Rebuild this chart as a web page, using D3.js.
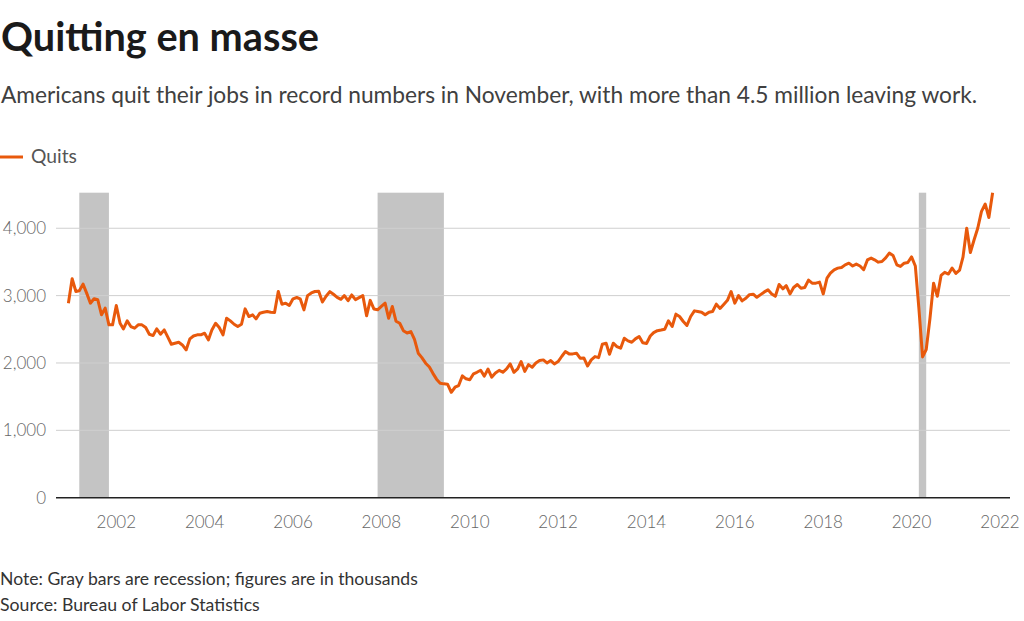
<!DOCTYPE html>
<html>
<head>
<meta charset="utf-8">
<script src="https://cdn.jsdelivr.net/npm/d3@7"></script>
<style>
  body { margin: 0; background: #fff; }
  svg { display: block; font-family: "Lato", "Open Sans", sans-serif; }
</style>
</head>
<body>
<svg id="chart" width="1024" height="621"></svg>
<script>
// monthly quits, thousands, Dec 2000 .. Nov 2021
const startMonth = "2000-12";
const quits = [
  2888,
  3250, 3061, 3071, 3171, 3037, 2888, 2953, 2938, 2715, 2814, 2566, 2566,
  2853, 2590, 2506, 2625, 2541, 2516, 2566, 2566, 2526, 2427, 2407, 2506,
  2427, 2491, 2392, 2278, 2293, 2308, 2268, 2194, 2358, 2400, 2418, 2418,
  2442, 2343, 2491, 2590, 2526, 2418, 2665, 2625, 2575, 2541, 2575, 2803,
  2690, 2714, 2655, 2739, 2754, 2764, 2754, 2749, 3061, 2873, 2888, 2853,
  2952, 2972, 2952, 2789, 3000, 3040, 3061, 3065, 2905, 2990, 3060, 3020,
  2975, 2945, 3000, 2925, 3010, 2940, 2970, 3000, 2700, 2930, 2800, 2790,
  2840, 2888, 2665, 2838, 2620, 2590, 2480, 2445, 2467, 2350, 2145, 2080,
  1997, 1940, 1850, 1760, 1700, 1690, 1685, 1565, 1640, 1665, 1810, 1765,
  1750, 1840, 1862, 1892, 1805, 1910, 1790, 1850, 1890, 1862, 1912, 1986,
  1862, 1912, 2020, 1875, 1976, 1936, 2000, 2036, 2046, 2001, 2036, 1986,
  2021, 2100, 2170, 2135, 2135, 2145, 2071, 2075, 1955, 2046, 2095, 2080,
  2279, 2294, 2130, 2294, 2244, 2219, 2368, 2328, 2308, 2358, 2393, 2300,
  2290, 2400, 2450, 2480, 2490, 2502, 2626, 2542, 2725, 2690, 2616, 2556,
  2690, 2774, 2764, 2754, 2715, 2754, 2764, 2873, 2810, 2870, 2930, 3061,
  2888, 3002, 2922, 2960, 3015, 3022, 2975, 3015, 3055, 3086, 3025, 2990,
  3165, 3101, 3148, 3025, 3120, 3165, 3110, 3120, 3230, 3185, 3185, 3200,
  3025, 3259, 3333, 3383, 3408, 3418, 3457, 3482, 3440, 3468, 3440, 3385,
  3530, 3557, 3532, 3497, 3507, 3560, 3631, 3596, 3458, 3433, 3482, 3492,
  3575, 3440, 2820, 2090, 2200, 2660, 3185, 2990, 3300, 3345, 3320, 3410,
  3330, 3380, 3570, 4000, 3640, 3830, 4000, 4250, 4360, 4160, 4528
];

// recession bars (bar start month, bar end month)
const recessions = [
  ["2001-03", "2001-11"],
  ["2007-12", "2009-06"],
  ["2020-03", "2020-05"]
];

const yTicks = [0, 1000, 2000, 3000, 4000];
const xTickYears = [2002, 2004, 2006, 2008, 2010, 2012, 2014, 2016, 2018, 2020, 2022];

const parseMonth = d3.timeParse("%Y-%m");
const start = parseMonth(startMonth);
const data = quits.map((v, i) => ({ date: d3.timeMonth.offset(start, i), value: v }));

const svg = d3.select("#chart");

const gridLeft = 56, gridRight = 1010;
const orange = "#e8590c";

const x = d3.scaleTime()
    .domain([new Date(2002, 0, 1), new Date(2022, 0, 1)])
    .range([116.3, 1000]);

const y = d3.scaleLinear()
    .domain([0, d3.max(quits)])
    .range([497.7, 192.7]);

// fit a text element's font size to a target width
function fitWidth(sel, target) {
    const node = sel.node();
    const fs = parseFloat(sel.attr("font-size"));
    const w = node.getComputedTextLength();
    sel.attr("font-size", (fs * target / w).toFixed(2));
}

// title block
svg.append("text")
    .attr("x", 1).attr("y", 51)
    .attr("font-size", 36)
    .attr("font-weight", 700)
    .attr("fill", "#1a1a1a")
    .text("Quitting en masse")
    .call(fitWidth, 318);

svg.append("text")
    .attr("x", 1).attr("y", 103)
    .attr("font-size", 21)
    .attr("fill", "#404040")
    .text("Americans quit their jobs in record numbers in November, with more than 4.5 million leaving work.")
    .call(fitWidth, 976);

// legend
svg.append("line")
    .attr("x1", 0).attr("x2", 23)
    .attr("y1", 157).attr("y2", 157)
    .attr("stroke", orange)
    .attr("stroke-width", 3);

svg.append("text")
    .attr("x", 31).attr("y", 163)
    .attr("font-size", 18)
    .attr("fill", "#555")
    .text("Quits")
    .call(fitWidth, 46);

// recession bars
svg.append("g")
    .selectAll("rect")
    .data(recessions)
    .join("rect")
    .attr("x", d => x(parseMonth(d[0])))
    .attr("width", d => x(parseMonth(d[1])) - x(parseMonth(d[0])))
    .attr("y", y(d3.max(quits)))
    .attr("height", y(0) - y(d3.max(quits)))
    .attr("fill", "#c4c4c4");

// gridlines
svg.append("g")
    .selectAll("line")
    .data(yTicks.filter(d => d > 0))
    .join("line")
    .attr("x1", gridLeft).attr("x2", gridRight)
    .attr("y1", d => y(d)).attr("y2", d => y(d))
    .attr("stroke", "#cfcfcf")
    .attr("stroke-width", 1);

// y axis labels
svg.append("g")
    .selectAll("text")
    .data(yTicks)
    .join("text")
    .attr("x", 46)
    .attr("y", d => y(d) + 6)
    .attr("text-anchor", "end")
    .attr("font-size", 17)
    .attr("font-weight", 300)
    .attr("fill", "#666")
    .text(d => d3.format(",")(d));

// x axis labels
svg.append("g")
    .selectAll("text")
    .data(xTickYears)
    .join("text")
    .attr("x", d => x(new Date(d, 0, 1)))
    .attr("y", 528)
    .attr("text-anchor", "middle")
    .attr("font-size", 17)
    .attr("font-weight", 300)
    .attr("fill", "#666")
    .text(d => d);

// quits line
const line = d3.line()
    .x(d => x(d.date))
    .y(d => y(d.value));

svg.append("path")
    .datum(data)
    .attr("d", line)
    .attr("fill", "none")
    .attr("stroke", orange)
    .attr("stroke-width", 3)
    .attr("stroke-linejoin", "round");

// baseline
svg.append("line")
    .attr("x1", gridLeft).attr("x2", gridRight)
    .attr("y1", y(0)).attr("y2", y(0))
    .attr("stroke", "#222")
    .attr("stroke-width", 1.5);

// notes
svg.append("text")
    .attr("x", 0).attr("y", 585)
    .attr("font-size", 16)
    .attr("fill", "#333")
    .text("Note: Gray bars are recession; figures are in thousands")
    .call(fitWidth, 418);

svg.append("text")
    .attr("x", 0).attr("y", 611)
    .attr("font-size", 16)
    .attr("fill", "#333")
    .text("Source: Bureau of Labor Statistics")
    .call(fitWidth, 260);
</script>
</body>
</html>
